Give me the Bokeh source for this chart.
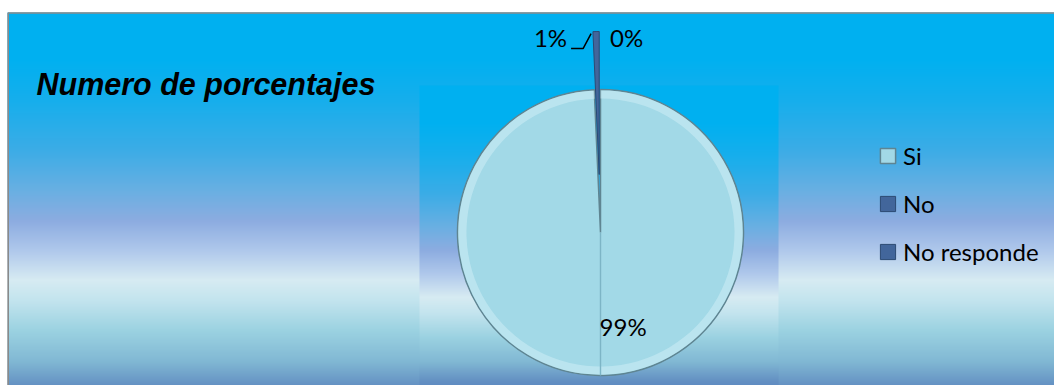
import numpy as np
from bokeh.plotting import figure
from bokeh.models import Range1d, Legend, LegendItem, Label
from bokeh.core.properties import value
from bokeh.embed import file_html
from bokeh.resources import INLINE

# ---------------- data ----------------
title_text = "Numero de porcentajes"
categories = ["Si", "No", "No responde"]
percent = [99.3, 0.7, 0.0]
slice_colors = ["#a2d9e7", "#42669b", "#42669b"]
slice_lines = ["#5f8592", "#2c4a73", "#2c4a73"]
explode_px = [0, 58, 0]
pct_labels = [f"{round(v)}%" for v in percent]

# gradient stops (fraction, rgb)
grad_f = [0.0, 0.12, 0.227, 0.356, 0.459, 0.536, 0.613, 0.69, 0.742, 0.82, 0.897, 0.961, 1.0]
grad_rgb = [(0, 176, 240), (0, 176, 240), (22, 174, 236), (60, 172, 230), (105, 175, 226),
            (140, 172, 224), (175, 200, 235), (215, 235, 242), (195, 228, 238),
            (155, 210, 225), (130, 185, 212), (100, 145, 195), (90, 130, 190)]

# ---------------- figure (1 data unit = 1 px) ----------------
W, H = 1054, 385
p = figure(width=W, height=H, output_backend="svg", toolbar_location=None,
           x_range=Range1d(0, W), y_range=Range1d(0, H),
           x_axis_location=None, y_axis_location=None, min_border=0)
p.grid.visible = False
p.outline_line_color = None
p.background_fill_color = "white"
p.border_fill_color = "white"

def sy(screen_y):
    return H - screen_y

def gradient_image(top, bottom, span):
    n = int(round(bottom - top))
    img = np.empty((n, 2), dtype=np.uint32)
    view = img.view(dtype=np.uint8).reshape((n, 2, 4))
    arr = np.array(grad_rgb, dtype=float)
    for i in range(n):
        s = bottom - (i + 0.5)
        f = min(max((s - top) / span, 0), 1)
        for c in range(3):
            view[i, :, c] = int(round(np.interp(f, grad_f, arr[:, c])))
        view[i, :, 3] = 255
    return img, n

# chart area background
chart_left, chart_top, chart_span = 7, 12, 388
img, n = gradient_image(chart_top, H, chart_span)
p.image_rgba(image=[img], x=chart_left, y=0, dw=W - chart_left, dh=n)

# plot area panel
pa_left, pa_right, pa_top, pa_span = 419, 778, 85, 307
img2, n2 = gradient_image(pa_top, H, pa_span)
p.image_rgba(image=[img2], x=pa_left, y=0, dw=pa_right - pa_left, dh=n2)

# chart border
p.line(x=[chart_left + 0.7, chart_left + 0.7, W], y=[0, sy(chart_top + 0.5), sy(chart_top + 0.5)],
       line_color="#8a8a8a", line_width=1.6)

# ---------------- pie ----------------
cx, cy, R = 600, sy(232), 143
vals = np.array(percent)
cum = np.concatenate([[0], np.cumsum(vals)]) / vals.sum()
start = np.pi / 2 - 2 * np.pi * cum[1:]
end = np.pi / 2 - 2 * np.pi * cum[:-1]
mid = (start + end) / 2
xs = cx + np.array(explode_px) * np.cos(mid)
ys = cy + np.array(explode_px) * np.sin(mid)

renderers = []
for i, cat in enumerate(categories):
    rad = R if vals[i] > 0 else 0
    if i == 0:
        r = p.wedge(x=xs[i], y=ys[i], radius=rad, start_angle=start[i], end_angle=end[i],
                    fill_color=slice_colors[i], line_color=slice_lines[i], line_width=1.5)
        # bevel highlight ring
        p.annular_wedge(x=xs[i], y=ys[i], inner_radius=R - 9, outer_radius=R - 0.8,
                        start_angle=start[i], end_angle=end[i],
                        fill_color="#d2f0f7", fill_alpha=0.5, line_color=None)
        p.ray(x=cx, y=cy, length=R, angle=-np.pi / 2, line_color="#7db5c6", line_width=1.4)
    else:
        r = p.wedge(x=xs[i], y=ys[i], radius=rad, start_angle=start[i], end_angle=end[i],
                    fill_color=slice_colors[i], line_color=slice_lines[i], line_width=1)
    renderers.append(r)

# data labels
ax = xs[1] + R * np.cos(mid[1])
ay = ys[1] + R * np.sin(mid[1])
p.line(x=[ax - 5, ax - 13, ax - 25], y=[ay - 2, ay - 17, ay - 17], line_color="black", line_width=1.5)
lab_font = value("Lato")
p.text(x=[ax - 29], y=[ay - 6], text=[pct_labels[1]], text_align="right", text_baseline="middle",
       text_font=lab_font, text_font_size="24px", text_color="black")
p.text(x=[ax + 14], y=[ay - 6], text=[pct_labels[2]], text_align="left", text_baseline="middle",
       text_font=lab_font, text_font_size="24px", text_color="black")
lx = xs[0] + 0.67 * R * np.cos(mid[0])
ly = ys[0] + 0.67 * R * np.sin(mid[0])
p.text(x=[lx - 3], y=[ly + 2], text=[pct_labels[0]], text_align="left", text_baseline="middle",
       text_font=lab_font, text_font_size="24px", text_color="black")

# title
p.add_layout(Label(x=36, y=sy(83), text=title_text, text_font="Liberation Sans",
                   text_font_style="bold italic", text_font_size="30.5px", text_color="black",
                   text_baseline="alphabetic", text_align="left"))

# legend
legend = Legend(items=[LegendItem(label=c, renderers=[r]) for c, r in zip(categories, renderers)],
                location=(878, 119), orientation="vertical", glyph_width=19, glyph_height=19,
                label_standoff=6, spacing=19, padding=0, margin=0, border_line_color=None,
                background_fill_alpha=0, label_text_font="Lato", label_text_font_size="24px",
                label_height=28, label_text_color="black", label_text_baseline="middle")
p.add_layout(legend)

open("out.html", "w").write(file_html(p, INLINE))
